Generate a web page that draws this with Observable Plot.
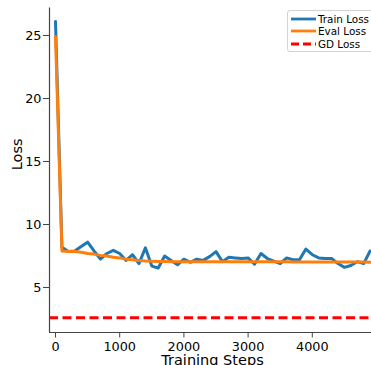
<!DOCTYPE html>
<html>
<head>
<meta charset="utf-8">
<script src="https://cdn.jsdelivr.net/npm/d3@7"></script>
<script src="https://cdn.jsdelivr.net/npm/@observablehq/plot@0.6"></script>
<style>
  html, body { margin: 0; padding: 0; background: #fff; overflow: hidden; }
  #wrap { position: relative; width: 371px; height: 365px; font-family: "DejaVu Sans", sans-serif; }
  #legend { position: absolute; left: 287px; top: 10px; width: 92px; height: 42px;
    border: 1px solid #d3d3d3; border-radius: 3px; background: rgba(255,255,255,0.85); box-sizing: border-box; }
  .row { position: absolute; left: 3px; height: 13px; display: flex; align-items: center; font-size: 10.4px; color: #000; white-space: nowrap; }
  .row svg { margin-right: 2px; }
</style>
</head>
<body>
<div id="wrap"></div>
<script>
const steps = [0,100,200,300,400,500,600,700,800,900,1000,1100,1200,1300,1400,1500,1600,1700,1800,1900,
  2000,2100,2200,2300,2400,2500,2600,2700,2800,2900,3000,3100,3200,3300,3400,3500,3600,3700,3800,3900,
  4000,4100,4200,4300,4400,4500,4600,4700,4800,4900];
const trainLoss = [26.1,8.2,7.85,7.9,8.25,8.6,7.9,7.25,7.7,7.95,7.7,7.15,7.6,6.9,8.15,6.7,6.55,7.5,7.15,6.8,
  7.25,7.0,7.25,7.15,7.45,7.85,7.05,7.4,7.35,7.3,7.35,6.85,7.7,7.3,7.1,6.9,7.35,7.2,7.2,8.05,
  7.6,7.35,7.3,7.3,6.9,6.6,6.75,7.05,6.9,7.9];
const evalLoss = [24.9,7.9,7.85,7.85,7.8,7.7,7.65,7.55,7.5,7.4,7.35,7.25,7.2,7.15,7.1,7.08,7.07,7.06,7.05,7.05,
  7.05,7.05,7.05,7.05,7.05,7.05,7.05,7.05,7.05,7.05,7.05,7.05,7.04,7.04,7.04,7.04,7.04,7.03,7.03,7.03,
  7.03,7.03,7.03,7.02,7.02,7.02,7.02,7.03,7.02,7.0];
const gdLoss = 2.6;
const xTicks = [0,1000,2000,3000,4000];
const yTicks = [5,10,15,20,25];
const seriesNames = ["Train Loss","Eval Loss","GD Loss"];
const seriesColors = ["#1f77b4","#ff7f0e","red"];

const train = steps.map((s,i) => ({step: s, loss: trainLoss[i]}));
const evals = steps.map((s,i) => ({step: s, loss: evalLoss[i]}));

const xDomain = [-93.5, 4922];
const yDomain = [1.43, 27.18];

const chart = Plot.plot({
  width: 371, height: 365,
  marginLeft: 49, marginRight: 0, marginTop: 7.5, marginBottom: 33,
  style: {fontFamily: "DejaVu Sans, sans-serif", fontSize: "12.8px", color: "#000", background: "#fff"},
  x: {domain: xDomain, label: null},
  y: {domain: yDomain, label: null},
  marks: [
    Plot.line(train, {x: "step", y: "loss", stroke: seriesColors[0], strokeWidth: 3, clip: true}),
    Plot.line(evals, {x: "step", y: "loss", stroke: seriesColors[1], strokeWidth: 3, clip: true}),
    Plot.ruleY([gdLoss], {stroke: seriesColors[2], strokeWidth: 2.8, strokeDasharray: "9,4.5"}),
    Plot.ruleX([xDomain[0]], {stroke: "#444", strokeWidth: 1.2}),
    Plot.ruleY([yDomain[0]], {stroke: "#444", strokeWidth: 1.2}),
    Plot.axisX({ticks: xTicks, tickFormat: "d", tickSize: 5.5, tickPadding: 4, stroke: "#444", label: null}),
    Plot.axisY({ticks: yTicks, tickSize: 6, tickPadding: 2, stroke: "#444", label: null}),
    Plot.text(["Loss"], {frameAnchor: "left", dx: -32, rotate: -90, fontSize: 14.5, fill: "#000"}),
    Plot.text(["Training Steps"], {frameAnchor: "bottom", dx: 2, dy: 22.5, lineAnchor: "top", fontSize: 14.5, fill: "#000"})
  ]
});

const wrap = document.getElementById("wrap");
wrap.appendChild(chart);

const legend = document.createElement("div");
legend.id = "legend";
seriesNames.forEach((name, i) => {
  const row = document.createElement("div");
  row.className = "row";
  row.style.top = (1 + i * 12.7) + "px";
  const dash = i === 2 ? 'stroke-dasharray="8,4"' : '';
  row.innerHTML = `<svg width="25" height="6"><line x1="0" y1="3" x2="25" y2="3" stroke="${seriesColors[i]}" stroke-width="2.8" ${dash}/></svg><span>${name}</span>`;
  legend.appendChild(row);
});
wrap.appendChild(legend);
</script>
</body>
</html>
